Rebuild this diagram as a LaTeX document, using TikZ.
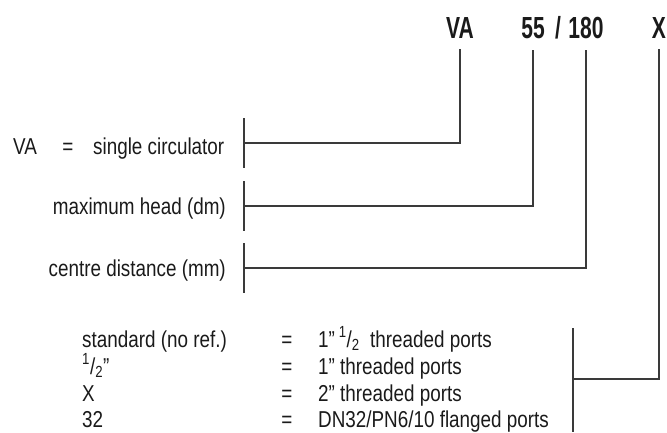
\documentclass[tikz,border=0pt]{standalone}
\usepackage{fontspec}
\setmainfont{Liberation Sans}[FakeStretch=0.82]
\newfontfamily\codefont{Liberation Sans}[FakeStretch=0.69]
\definecolor{linegray}{HTML}{3A3A3A}
\definecolor{txtdark}{HTML}{1A1A1A}

\begin{document}
\begin{tikzpicture}[
    x=1pt, y=-1pt,
    font=\fontsize{23}{26}\selectfont,
    text=txtdark,
    code/.style={font=\codefont\bfseries\fontsize{30.5}{33}\selectfont, inner sep=0pt, anchor=base},
    lbl/.style={inner sep=0pt, anchor=base east},
    row/.style={inner sep=0pt, anchor=base west},
    eq/.style={inner sep=0pt, anchor=base},
    bar/.style={draw=linegray, line width=1.2pt},
    link/.style={draw=linegray, line width=1.2pt, shorten >=11pt},
]
\useasboundingbox (0,0) rectangle (667,432);

% Type code
\node[code] (va) at (460,38) {VA};
\node[code] (head) at (533,38) {55};
\node[code] (slash) at (558,38) {/};
\node[code] (dist) at (586,38) {180};
\node[code] (port) at (659,38) {X};

% Left legend
\node[row] (vakey) at (13,154) {VA};
\node[eq] (vaeq) at (68,154) {=};
\node[row] (valbl) at (93,154) {single circulator};
\node[lbl] (headlbl) at (226,214) {maximum head (dm)};
\node[lbl] (distlbl) at (226,276) {centre distance (mm)};

% Brackets
\coordinate (vabar) at (244,143);
\coordinate (headbar) at (244,206);
\coordinate (distbar) at (244,268);
\foreach \c in {vabar,headbar,distbar}
    \draw[bar] ([yshift=25pt]\c) -- ([yshift=-25pt]\c);

\draw[link] (vabar) -| (va);
\draw[link] (headbar) -| (head);
\draw[link] (distbar) -| (dist);

% Port options
\node[row] (stdkey) at (82,347) {standard (no ref.)};
\node[eq] (stdeq) at (287,347) {=};
\node[row] (stdval) at (318,347) {1”\,\textsuperscript{1}/\textsubscript{2}\ \ threaded ports};

\node[row] (halfkey) at (82,374) {\textsuperscript{1}/\textsubscript{2}”};
\node[eq] (halfeq) at (287,374) {=};
\node[row] (halfval) at (318,374) {1” threaded ports};

\node[row] (xkey) at (82,401) {X};
\node[eq] (xeq) at (287,401) {=};
\node[row] (xval) at (318,401) {2” threaded ports};

\node[row] (flkey) at (82,427) {32};
\node[eq] (fleq) at (287,427) {=};
\node[row] (flval) at (318,427) {DN32/PN6/10 flanged ports};

\coordinate (portbar) at (573,379);
\draw[bar] ([yshift=51pt]portbar) -- ([yshift=-53pt]portbar);
\draw[link] (portbar) -| (port);

\end{tikzpicture}
\end{document}
